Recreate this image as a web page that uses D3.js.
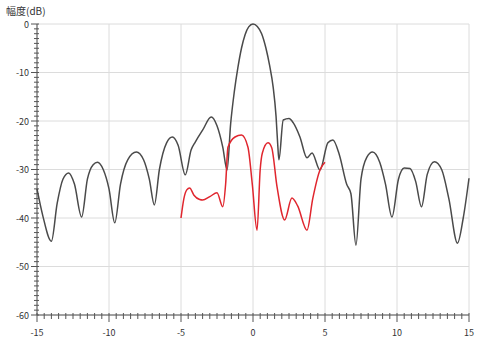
<!DOCTYPE html>
<html>
<head>
<meta charset="utf-8">
<script src="https://cdn.jsdelivr.net/npm/d3@7"></script>
<style>
  body { margin: 0; background: #fff; }
  text { font-family: "Noto Sans CJK SC", "DejaVu Sans", sans-serif; fill: #333; }
</style>
</head>
<body>
<script>
// angle (deg) vs amplitude (dB)
const fullX = [-15, -14.6, -14.0, -13.6, -13.2, -12.8, -12.4, -11.9, -11.5, -11.1, -10.8, -10.4, -10.0, -9.6, -9.2, -8.7, -8.1, -7.6, -7.2, -6.85, -6.5, -6.0, -5.6, -5.2, -4.7, -4.3, -4.0, -3.5, -2.9, -2.5, -2.1, -1.8, -1.55, -1.3, -1.05, -0.8, -0.55, -0.3, 0.0, 0.3, 0.6, 0.9, 1.15, 1.4, 1.6, 1.72, 1.8, 2.1, 2.5, 2.8, 3.26, 3.75, 4.1, 4.65, 5.2, 5.55, 6.0, 6.5, 6.8, 7.15, 7.5, 7.9, 8.3, 8.8, 9.2, 9.65, 10.1, 10.5, 10.9, 11.3, 11.7, 12.1, 12.6, 13.1, 13.6, 14.2, 14.6, 15.0];
const fullY = [-34, -39.5, -44.8, -37, -32, -30.7, -33, -39.8, -32, -29, -28.5, -30, -34, -41, -33, -28, -26.4, -28, -32, -37.3, -30, -24.5, -23.3, -25, -31.1, -26, -24.3, -21.9, -19.2, -21, -25.4, -30.1, -20.5, -14, -9, -5, -2.2, -0.6, 0, -0.5, -2, -5, -8.5, -13, -19, -25, -28, -19.8, -19.5, -20.4, -23.3, -27.6, -26.6, -30.1, -24.5, -23.9, -27, -33, -35, -45.6, -32, -27.5, -26.4, -28.5, -33, -39.8, -32, -29.7, -29.8, -32.5, -37.7, -31, -28.4, -30, -36, -45.2, -40, -31.8];

const partX = [-5.0, -4.8, -4.6, -4.4, -4.1, -3.7, -3.5, -3.0, -2.5, -2.1, -1.9, -1.74, -1.25, -0.8, -0.35, -0.05, 0.28, 0.5, 0.65, 1.04, 1.3, 1.67, 2.2, 2.7, 3.1, 3.75, 4.15, 4.65, 5.0];
const partY = [-40, -36, -34.2, -33.8, -35.3, -36.2, -36.3, -35.6, -34.8, -37.7, -33, -25.4, -23.3, -22.9, -25.4, -33, -42.5, -30, -26.6, -24.5, -25.5, -33.6, -40.4, -35.9, -37.5, -42.5, -36, -30.1, -28.5];

const xTicks = [-15, -10, -5, 0, 5, 10, 15];
const yTicks = [0, -10, -20, -30, -40, -50, -60];
const yTitle = "幅度(dB)";

const W = 479, H = 343;
const svg = d3.select("body").append("svg").attr("width", W).attr("height", H);

const x = d3.scaleLinear().domain([-15, 15]).range([37, 469]);
const y = d3.scaleLinear().domain([0, -60]).range([24, 315]);

// grid
svg.append("g").selectAll("line").data(xTicks).join("line")
  .attr("x1", d => x(d)).attr("x2", d => x(d))
  .attr("y1", y(0)).attr("y2", y(-60))
  .attr("stroke", "#dcdcdc").attr("stroke-width", 1);
svg.append("g").selectAll("line").data(yTicks).join("line")
  .attr("x1", x(-15)).attr("x2", x(15))
  .attr("y1", d => y(d)).attr("y2", d => y(d))
  .attr("stroke", "#dcdcdc").attr("stroke-width", 1);

// minor ticks
const yMinor = d3.range(0, -61, -1);
const xMinor = d3.range(-15, 15.01, 0.5);

const yAxis = svg.append("g").attr("transform", `translate(${x(-15)},0)`);
yAxis.append("line").attr("y1", y(0)).attr("y2", y(-60)).attr("stroke", "#555");
yAxis.selectAll(".mn").data(yMinor).join("line")
  .attr("x1", d => d % 10 === 0 ? -6 : -3).attr("x2", 2)
  .attr("y1", d => y(d)).attr("y2", d => y(d))
  .attr("stroke", "#555");
yAxis.selectAll("text").data(yTicks).join("text")
  .attr("x", -8).attr("y", d => y(d) + 3.5)
  .attr("text-anchor", "end").attr("font-size", 9)
  .text(d => d === 0 ? "0" : d);

const xAxis = svg.append("g").attr("transform", `translate(0,${y(-60)})`);
xAxis.append("line").attr("x1", x(-15)).attr("x2", x(15)).attr("stroke", "#555");
xAxis.selectAll(".mn").data(xMinor).join("line")
  .attr("x1", d => x(d)).attr("x2", d => x(d))
  .attr("y1", -2).attr("y2", d => d % 5 === 0 ? 7 : 4)
  .attr("stroke", "#555");
xAxis.selectAll("text").data(xTicks).join("text")
  .attr("x", d => x(d)).attr("y", 21)
  .attr("text-anchor", "middle").attr("font-size", 9)
  .text(d => d);

svg.append("text").attr("x", 6).attr("y", 15).attr("font-size", 10).text(yTitle);

const line = d3.line().x(d => x(d[0])).y(d => y(d[1])).curve(d3.curveMonotoneX);

svg.append("path")
  .datum(d3.zip(fullX, fullY))
  .attr("d", line)
  .attr("fill", "none").attr("stroke", "#4a4a4a").attr("stroke-width", 1.5);

svg.append("path")
  .datum(d3.zip(partX, partY))
  .attr("d", line)
  .attr("fill", "none").attr("stroke", "#e0262e").attr("stroke-width", 1.5);
</script>
</body>
</html>
